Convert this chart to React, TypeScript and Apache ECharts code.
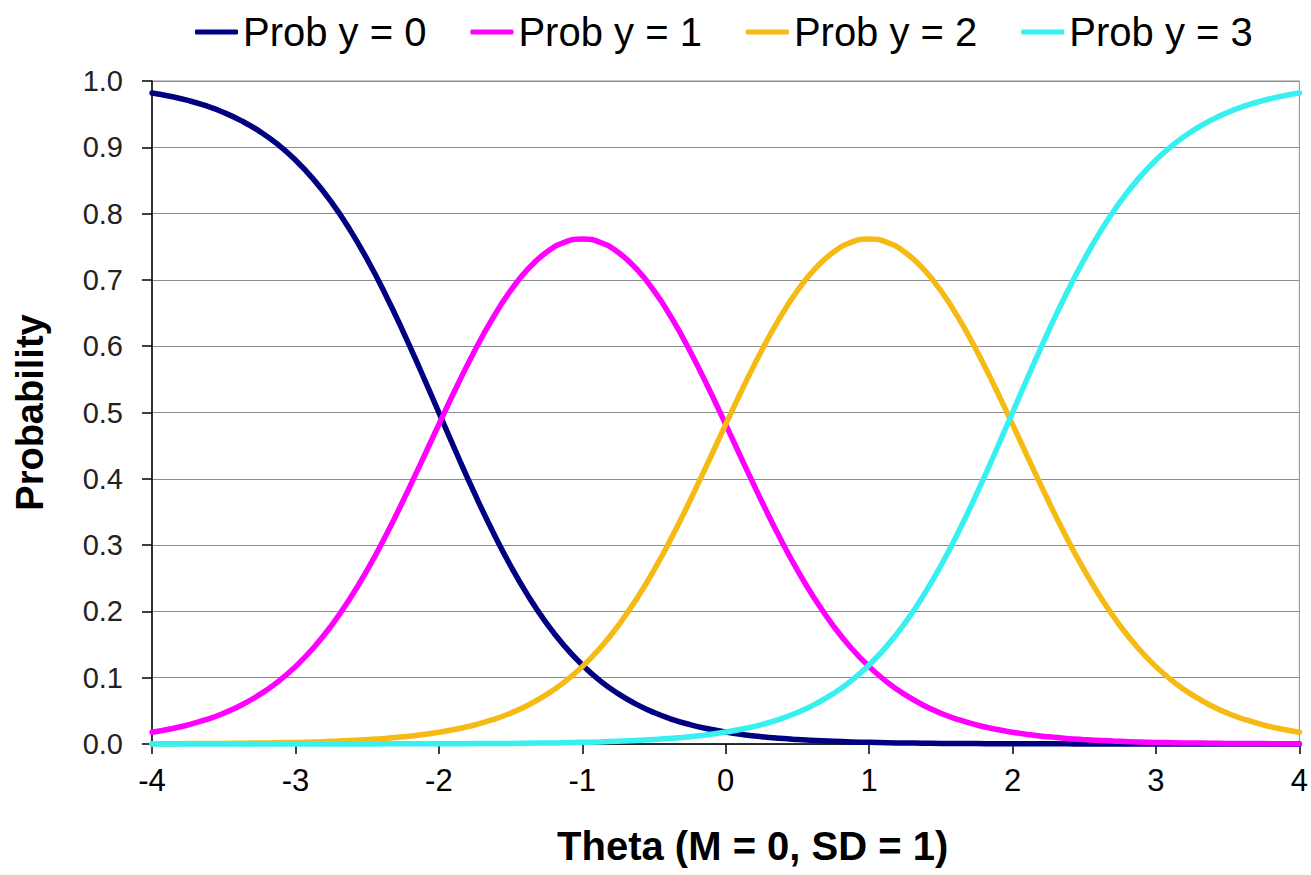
import React, { useEffect, useRef } from "react";
import * as echarts from "echarts";

const theta = [
  -4, -3.875, -3.75, -3.625, -3.5, -3.375, -3.25, -3.125, -3, -2.875, -2.75, -2.625, -2.5, -2.375,
  -2.25, -2.125, -2, -1.875, -1.75, -1.625, -1.5, -1.375, -1.25, -1.125, -1, -0.875, -0.75, -0.625,
  -0.5, -0.375, -0.25, -0.125, 0, 0.125, 0.25, 0.375, 0.5, 0.625, 0.75, 0.875, 1, 1.125, 1.25,
  1.375, 1.5, 1.625, 1.75, 1.875, 2, 2.125, 2.25, 2.375, 2.5, 2.625, 2.75, 2.875, 3, 3.125, 3.25,
  3.375, 3.5, 3.625, 3.75, 3.875, 4,
];

const probY0 = [
  0.982, 0.977, 0.9707, 0.9627, 0.9526, 0.9399, 0.9241, 0.9047, 0.8808, 0.852, 0.8176, 0.7773,
  0.7311, 0.6792, 0.6225, 0.5622, 0.5, 0.4378, 0.3775, 0.3208, 0.2689, 0.2227, 0.1824, 0.148,
  0.1192, 0.0953, 0.0759, 0.0601, 0.0474, 0.0373, 0.0293, 0.023, 0.018, 0.0141, 0.011, 0.0086,
  0.0067, 0.0052, 0.0041, 0.0032, 0.0025, 0.0019, 0.0015, 0.0012, 0.0009, 0.0007, 0.0006, 0.0004,
  0.0003, 0.0003, 0.0002, 0.0002, 0.0001, 0.0001, 0.0001, 0.0001, 0.0001, 0, 0, 0, 0, 0, 0, 0, 0,
];

const probY1 = [
  0.0177, 0.0226, 0.0287, 0.0366, 0.0465, 0.0589, 0.0744, 0.0934, 0.1167, 0.1448, 0.1783, 0.2175,
  0.2622, 0.3122, 0.3665, 0.4237, 0.482, 0.5392, 0.5932, 0.6419, 0.6837, 0.7172, 0.7417, 0.7567,
  0.7616, 0.7567, 0.7417, 0.7172, 0.6837, 0.6419, 0.5932, 0.5392, 0.482, 0.4237, 0.3665, 0.3122,
  0.2622, 0.2175, 0.1783, 0.1448, 0.1167, 0.0934, 0.0744, 0.0589, 0.0465, 0.0366, 0.0287, 0.0226,
  0.0177, 0.0138, 0.0108, 0.0084, 0.0066, 0.0051, 0.004, 0.0031, 0.0024, 0.0019, 0.0015, 0.0012,
  0.0009, 0.0007, 0.0006, 0.0004, 0.0003,
];

const probY2 = [
  0.0003, 0.0004, 0.0006, 0.0007, 0.0009, 0.0012, 0.0015, 0.0019, 0.0024, 0.0031, 0.004, 0.0051,
  0.0066, 0.0084, 0.0108, 0.0138, 0.0177, 0.0226, 0.0287, 0.0366, 0.0465, 0.0589, 0.0744, 0.0934,
  0.1167, 0.1448, 0.1783, 0.2175, 0.2622, 0.3122, 0.3665, 0.4237, 0.482, 0.5392, 0.5932, 0.6419,
  0.6837, 0.7172, 0.7417, 0.7567, 0.7616, 0.7567, 0.7417, 0.7172, 0.6837, 0.6419, 0.5932, 0.5392,
  0.482, 0.4237, 0.3665, 0.3122, 0.2622, 0.2175, 0.1783, 0.1448, 0.1167, 0.0934, 0.0744, 0.0589,
  0.0465, 0.0366, 0.0287, 0.0226, 0.0177,
];

const probY3 = [
  0, 0, 0, 0, 0, 0, 0, 0, 0.0001, 0.0001, 0.0001, 0.0001, 0.0001, 0.0002, 0.0002, 0.0003, 0.0003,
  0.0004, 0.0006, 0.0007, 0.0009, 0.0012, 0.0015, 0.0019, 0.0025, 0.0032, 0.0041, 0.0052, 0.0067,
  0.0086, 0.011, 0.0141, 0.018, 0.023, 0.0293, 0.0373, 0.0474, 0.0601, 0.0759, 0.0953, 0.1192,
  0.148, 0.1824, 0.2227, 0.2689, 0.3208, 0.3775, 0.4378, 0.5, 0.5622, 0.6225, 0.6792, 0.7311,
  0.7773, 0.8176, 0.852, 0.8808, 0.9047, 0.9241, 0.9399, 0.9526, 0.9627, 0.9707, 0.977, 0.982,
];

const seriesNames = ["Prob y = 0", "Prob y = 1", "Prob y = 2", "Prob y = 3"];
const seriesValues = [probY0, probY1, probY2, probY3];
const seriesColors = ["#000080", "#FF00FF", "#F5BA14", "#38F0F0"];

const FONT = "'Liberation Sans', Arial, Helvetica, sans-serif";

export default function App() {
  const ref = useRef<HTMLDivElement>(null);

  useEffect(() => {
    if (!ref.current) return;
    const chart = echarts.init(ref.current, undefined, { renderer: "svg" });
    chart.setOption({
      animation: false,
      backgroundColor: "#ffffff",
      textStyle: { fontFamily: FONT },
      legend: {
        left: 190,
        top: 6,
        itemWidth: 43,
        itemHeight: 5,
        itemGap: 44,
        icon: "roundRect",
        textStyle: { fontSize: 40, color: "#000", fontFamily: FONT, lineHeight: 42 },
        data: seriesNames,
      },
      grid: {
        left: 152,
        right: 8,
        top: 81,
        bottom: 131,
        show: true,
        borderColor: "#8c8c8c",
        borderWidth: 1,
        containLabel: false,
      },
      xAxis: {
        type: "value",
        min: -4,
        max: 4,
        interval: 1,
        name: "Theta (M = 0, SD = 1)",
        nameLocation: "middle",
        nameGap: 82,
        nameTextStyle: {
          fontSize: 40,
          fontWeight: "bold",
          color: "#000",
          fontFamily: FONT,
          padding: [0, 0, 0, 54],
        },
        axisLine: { show: true, onZero: false, lineStyle: { color: "#000", width: 1.5 } },
        axisTick: { show: true, inside: false, length: 10, lineStyle: { color: "#000", width: 1.5 } },
        axisLabel: { fontSize: 31, color: "#000", margin: 21, fontFamily: FONT },
        splitLine: { show: false },
      },
      yAxis: {
        type: "value",
        min: 0,
        max: 1,
        interval: 0.1,
        name: "Probability",
        nameLocation: "middle",
        nameGap: 103,
        nameTextStyle: { fontSize: 38, fontWeight: "bold", color: "#000", fontFamily: FONT },
        axisLine: { show: true, onZero: false, lineStyle: { color: "#000", width: 1.5 } },
        axisTick: { show: true, inside: false, length: 10, lineStyle: { color: "#000", width: 1.5 } },
        axisLabel: {
          fontSize: 29,
          color: "#222",
          margin: 29,
          fontFamily: FONT,
          formatter: (v: number) => v.toFixed(1),
        },
        splitLine: { show: true, lineStyle: { color: "#8c8c8c", width: 1 } },
      },
      series: seriesNames.map((name, k) => ({
        name,
        type: "line",
        data: theta.map((t, i) => [t, seriesValues[k][i]]),
        smooth: true,
        showSymbol: false,
        symbol: "none",
        clip: false,
        color: seriesColors[k],
        lineStyle: { color: seriesColors[k], width: 5.5, cap: "round", join: "round" },
        itemStyle: { color: seriesColors[k] },
      })),
    });
    return () => chart.dispose();
  }, []);

  return (
    <div
      ref={ref}
      style={{ position: "absolute", left: 0, top: 0, width: 1311, height: 875, background: "#fff" }}
    />
  );
}
